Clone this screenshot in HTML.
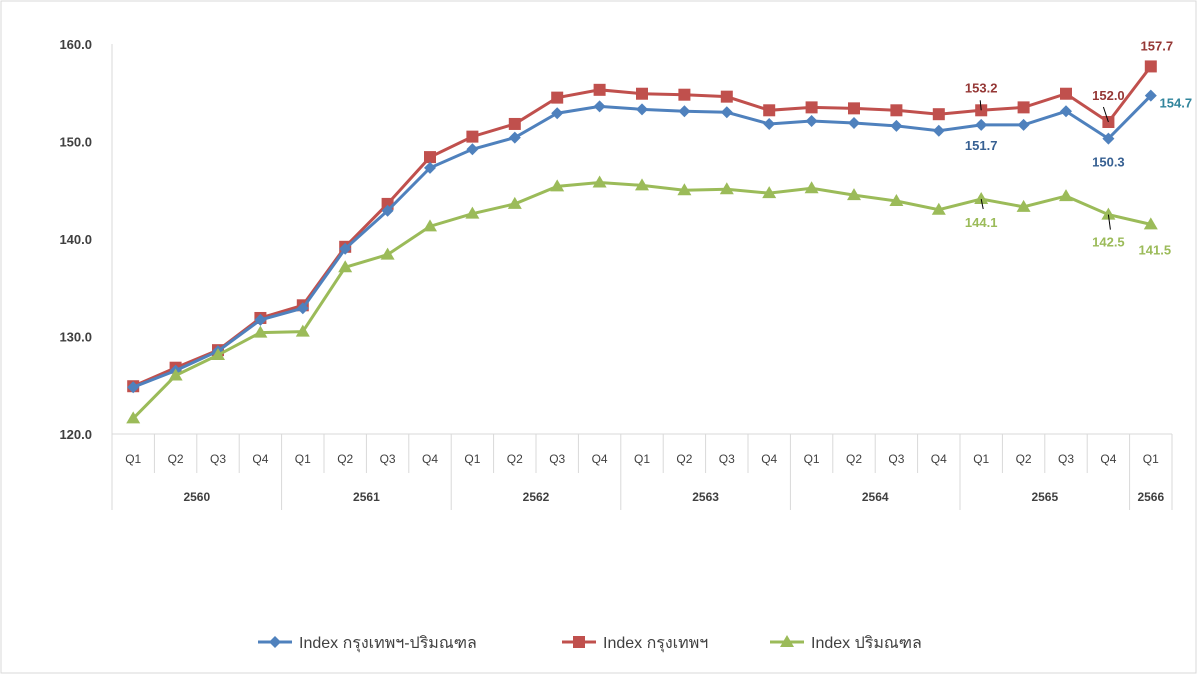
<!DOCTYPE html>
<html><head><meta charset="utf-8"><style>
body{margin:0;background:#fff;}
svg{display:block;font-family:"Liberation Sans",Arial,sans-serif;}
</style></head><body>
<svg id="chart" width="1202" height="676" viewBox="0 0 1202 676" xmlns="http://www.w3.org/2000/svg">
<rect x="1" y="1" width="1195" height="672" fill="#fff" stroke="#d9d9d9"/>
<g id="axes"></g>
<g id="series"></g>
<g id="labels"></g>
<g id="legend"></g>
</svg>
<script>
const quarters = ["Q1","Q2","Q3","Q4","Q1","Q2","Q3","Q4","Q1","Q2","Q3","Q4","Q1","Q2","Q3","Q4","Q1","Q2","Q3","Q4","Q1","Q2","Q3","Q4","Q1"];
const years = ["2560","2561","2562","2563","2564","2565","2566"];
const yTicks = [120,130,140,150,160];
const bkkVic = [124.8,126.5,128.5,131.7,132.9,139.0,142.9,147.3,149.2,150.4,152.9,153.6,153.3,153.1,153.0,151.8,152.1,151.9,151.6,151.1,151.7,151.7,153.1,150.3,154.7];
const bkk = [124.9,126.8,128.6,131.9,133.2,139.2,143.6,148.4,150.5,151.8,154.5,155.3,154.9,154.8,154.6,153.2,153.5,153.4,153.2,152.8,153.2,153.5,154.9,152.0,157.7];
const vic = [121.6,126.0,128.1,130.4,130.5,137.1,138.4,141.3,142.6,143.6,145.4,145.8,145.5,145.0,145.1,144.7,145.2,144.5,143.9,143.0,144.1,143.3,144.4,142.5,141.5];

const NS="http://www.w3.org/2000/svg";
const x0=112, x1=1172, yTop=44, yBot=434;
const step=(x1-x0)/quarters.length;
const xs=i=>x0+step*(i+0.5);
const ys=v=>yBot-(v-120)/(160-120)*(yBot-yTop);
function mk(tag,attrs,parent,text){const e=document.createElementNS(NS,tag);for(const k in attrs)e.setAttribute(k,attrs[k]);if(text!==undefined)e.textContent=text;parent.appendChild(e);return e;}
const axes=document.getElementById('axes');
mk('line',{x1:x0,y1:yTop,x2:x0,y2:510,stroke:'#d9d9d9'},axes);
mk('line',{x1:x0,y1:yBot,x2:x1,y2:yBot,stroke:'#d9d9d9'},axes);
yTicks.forEach(v=>{const t=mk('text',{x:92,y:ys(v)+5,'text-anchor':'end','font-size':13,'font-weight':'bold',fill:'#404040'},axes,v.toFixed(1));

});
quarters.forEach((q,i)=>{
 const xb=x0+step*(i+1);
 const yearEnd=(i%4===3)||i===quarters.length-1;
 mk('line',{x1:xb,y1:yBot,x2:xb,y2:yearEnd?510:473,stroke:'#d9d9d9'},axes);
 const t=mk('text',{x:xs(i),y:463,'text-anchor':'middle','font-size':12,fill:'#404040'},axes,q);
 
 
});
years.forEach((y,k)=>{
 const a=k*4, b=Math.min(k*4+3,quarters.length-1);
 const t=mk('text',{x:(xs(a)+xs(b))/2,y:501,'text-anchor':'middle','font-size':12,'font-weight':'bold',fill:'#404040'},axes,y);
 
 
});
const ser=document.getElementById('series');
function drawSeries(data,color,shape,name){
 const g=mk('g',{},ser);
 
 
 mk('polyline',{points:data.map((v,i)=>xs(i)+','+ys(v)).join(' '),fill:'none',stroke:color,'stroke-width':3},g);
 data.forEach((v,i)=>{drawMarker(g,xs(i),ys(v),color,shape);});
}
function drawMarker(g,x,y,color,shape){
 let m;
 if(shape==='sq') m=mk('rect',{x:x-6,y:y-6,width:12,height:12,fill:color},g);
 else if(shape==='dia') m=mk('polygon',{points:`${x},${y-6} ${x+6},${y} ${x},${y+6} ${x-6},${y}`,fill:color},g);
 else m=mk('polygon',{points:`${x},${y-7} ${x+7},${y+5} ${x-7},${y+5}`,fill:color},g);
 
 
}
drawSeries(bkk,'#c0504d','sq','series-bangkok');
drawSeries(bkkVic,'#4f81bd','dia','series-bangkok-vicinity');
drawSeries(vic,'#9bbb59','tri','series-vicinity');
const lab=document.getElementById('labels');
function label(arr,i,dx,dy,color,leader){
 const x=xs(i),y=ys(arr[i]);
 if(leader) mk('line',{x1:x,y1:y,x2:x+leader[0],y2:y+leader[1],stroke:'#000','stroke-width':1},lab);
 const t=mk('text',{x:x+dx,y:y+dy,'text-anchor':'middle','font-size':13,'font-weight':'bold',fill:color},lab,arr[i].toFixed(1));
 
 
}
label(bkk,20,0,-18,'#953735',[-1,-10]);
label(bkkVic,20,0,25,'#376092');
label(bkk,23,0,-22,'#953735',[-5,-15]);
label(bkkVic,23,0,28,'#376092');
label(bkk,24,6,-16,'#953735');
label(bkkVic,24,25,12,'#31859c');
label(vic,20,0,28,'#9bbb59',[2,10]);
label(vic,23,0,32,'#9bbb59',[2,15]);
label(vic,24,4,30,'#9bbb59');
const leg=document.getElementById('legend');
const legItems=[["Index กรุงเทพฯ-ปริมณฑล",'#4f81bd','dia',258],["Index กรุงเทพฯ",'#c0504d','sq',562],["Index ปริมณฑล",'#9bbb59','tri',770]];
legItems.forEach(([txt,c,s,x])=>{
 const g=mk('g',{},leg);
 
 
 mk('line',{x1:x,y1:642,x2:x+34,y2:642,stroke:c,'stroke-width':3},g);
 drawMarker(g,x+17,642,c,s);
 mk('text',{x:x+41,y:648,'font-size':16,fill:'#404040','font-family':'"Liberation Sans","Noto Sans CJK SC",sans-serif'},g,txt);
});
</script>
</body></html>
